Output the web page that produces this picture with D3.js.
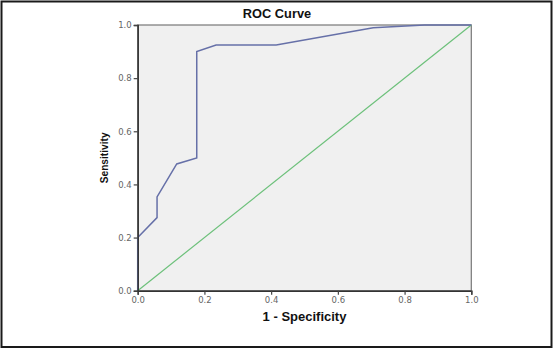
<!DOCTYPE html>
<html><head><meta charset="utf-8">
<script src="https://cdn.jsdelivr.net/npm/d3@7"></script>
<style>html,body{margin:0;padding:0;background:#fff;}svg{display:block;}</style>
</head><body>
<script>
const fpr = [0, 0, 0.058, 0.058, 0.117, 0.177, 0.177, 0.235, 0.415, 0.706, 0.86, 1.0];
const tpr = [0, 0.2, 0.275, 0.353, 0.477, 0.5, 0.9, 0.925, 0.925, 0.99, 1.0, 1.0];
const refLine = [0, 1];
const ticks = [0, 0.2, 0.4, 0.6, 0.8, 1.0];
const title = "ROC Curve";
const xTitle = "1 - Specificity";
const yTitle = "Sensitivity";

const W = 554, H = 350;
const L = 137.7, R = 471.3, T = 25, B = 290.7;
const svg = d3.select("body").append("svg").attr("width", W).attr("height", H);
svg.append("rect").attr("x", 1.5).attr("y", 1.5).attr("width", 550).attr("height", 345.5)
  .attr("fill", "#fff").attr("stroke", "#1a1a1a").attr("stroke-width", 2);

const x = d3.scaleLinear().domain([0, 1]).range([L, R]);
const y = d3.scaleLinear().domain([0, 1]).range([B, T]);

svg.append("rect").attr("x", L).attr("y", T).attr("width", R - L).attr("height", B - T)
  .attr("fill", "#f0f0f0").attr("stroke", "#777").attr("stroke-width", 1.2);

svg.append("path").datum(refLine)
  .attr("d", d3.line().x(d => x(d)).y(d => y(d)))
  .attr("fill", "none").attr("stroke", "#6cc07a").attr("stroke-width", 1.2);

const pts = fpr.map((f, i) => [f, tpr[i]]);
svg.append("path").datum(pts)
  .attr("d", d3.line().x(d => x(d[0])).y(d => y(d[1])))
  .attr("fill", "none").attr("stroke", "#6670a8").attr("stroke-width", 1.5);

const fmt = d3.format(".1f");
const gx = svg.append("g").attr("transform", `translate(0,${B})`)
  .call(d3.axisBottom(x).tickValues(ticks).tickFormat(fmt).tickSize(4).tickPadding(2));
const gy = svg.append("g").attr("transform", `translate(${L},0)`)
  .call(d3.axisLeft(y).tickValues(ticks).tickFormat(fmt).tickSize(4).tickPadding(2));
[gx, gy].forEach(g => {
  g.select(".domain").attr("stroke", "#333").attr("stroke-width", 1.5);
  g.selectAll(".tick line").attr("stroke", "#444").attr("stroke-width", 1.2);
  g.selectAll(".tick text").attr("fill", "#666").attr("font-family", "DejaVu Sans, Verdana, sans-serif")
    .attr("font-size", 8.5);
});

svg.append("text").attr("x", 277).attr("y", 18).attr("text-anchor", "middle")
  .attr("font-family", "Liberation Sans, Arial, sans-serif").attr("font-weight", "bold")
  .attr("font-size", 12.8).attr("fill", "#111").text(title);
svg.append("text").attr("x", (L + R) / 2).attr("y", 321).attr("text-anchor", "middle")
  .attr("font-family", "Liberation Sans, Arial, sans-serif").attr("font-weight", "bold")
  .attr("font-size", 13).attr("fill", "#111").text(xTitle);
svg.append("text").attr("transform", `translate(108,${(T + B) / 2}) rotate(-90)`)
  .attr("text-anchor", "middle")
  .attr("font-family", "Liberation Sans, Arial, sans-serif").attr("font-weight", "bold")
  .attr("font-size", 10.2).attr("fill", "#111").text(yTitle);
</script>
</body></html>
